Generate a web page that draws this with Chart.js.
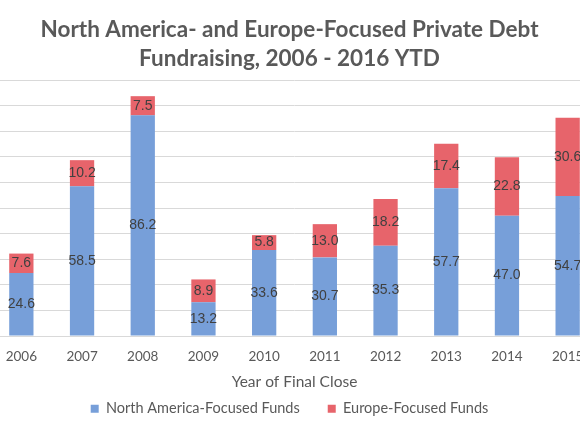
<!DOCTYPE html>
<html>
<head>
<meta charset="utf-8">
<title>Private Debt Fundraising</title>
<script src="https://cdn.jsdelivr.net/npm/chart.js@4.4.1/dist/chart.umd.min.js"></script>
<style>
html, body { margin: 0; padding: 0; background: #fff; overflow: hidden; width: 580px; height: 435px; }
#wrap { position: absolute; left: -19px; top: 0; width: 640px; height: 435px; }
</style>
</head>
<body>
<div id="wrap"><canvas id="fundChart"></canvas></div>
<script>
// values ($bn), 2016 YTD is cut off in the source
var years = ['2006', '2007', '2008', '2009', '2010', '2011', '2012', '2013', '2014', '2015'];
var northAmerica = [24.6, 58.5, 86.2, 13.2, 33.6, 30.7, 35.3, 57.7, 47.0, 54.7];
var europe = [7.6, 10.2, 7.5, 8.9, 5.8, 13.0, 18.2, 17.4, 22.8, 30.6];

var grey = '#595959';

// numbers in the middle of every segment
var segmentLabels = {
    id: 'segmentLabels',
    afterDatasetsDraw: function (chart) {
        var ctx = chart.ctx;
        ctx.save();
        ctx.font = '14px "Liberation Sans", Arial, sans-serif';
        ctx.fillStyle = '#404040';
        ctx.textAlign = 'center';
        ctx.textBaseline = 'middle';
        chart.data.datasets.forEach(function (ds, i) {
            var meta = chart.getDatasetMeta(i);
            meta.data.forEach(function (bar, j) {
                var mid = (bar.y + bar.base) / 2;
                ctx.fillText(ds.data[j].toFixed(1), bar.x, mid);
            });
        });
        ctx.restore();
    }
};

var ctx = document.getElementById('fundChart').getContext('2d');

var myChart = new Chart(ctx, {
    type: 'bar',
    data: {
        labels: years,
        datasets: [
            { label: 'North America-Focused Funds', data: northAmerica, backgroundColor: '#779FD9' },
            { label: 'Europe-Focused Funds', data: europe, backgroundColor: '#E7646B' }
        ]
    },
    options: {
        responsive: true,
        maintainAspectRatio: false,
        animation: false,
        categoryPercentage: 0.8,
        barPercentage: 0.5,
        layout: { padding: { left: 0, right: 23, top: 0, bottom: 9 } },
        plugins: {
            title: {
                display: true,
                text: ['North America- and Europe-Focused Private Debt', 'Fundraising, 2006 - 2016 YTD'],
                color: grey,
                font: { family: 'Lato', size: 22.5, weight: 'bold', lineHeight: 1.29 },
                padding: { top: 15, bottom: 7 }
            },
            legend: {
                position: 'bottom',
                labels: {
                    color: grey,
                    boxWidth: 8,
                    boxHeight: 8,
                    padding: 28,
                    font: { family: 'Lato', size: 14.5 }
                }
            },
            tooltip: { enabled: false }
        },
        scales: {
            x: {
                stacked: true,
                grid: { display: false, drawTicks: false },
                border: { color: '#d9d9d9' },
                ticks: { color: grey, padding: 13, font: { family: 'Lato', size: 13.5 } },
                title: {
                    display: true,
                    text: 'Year of Final Close',
                    color: grey,
                    font: { family: 'Lato', size: 15.5 },
                    padding: { top: -5.3, bottom: -18 }
                }
            },
            y: {
                stacked: true,
                min: 0,
                max: 100,
                ticks: { stepSize: 10, display: false },
                grid: { color: '#d9d9d9', drawTicks: false },
                border: { display: false },
                afterFit: function (scale) { scale.width = 10; }
            }
        }
    },
    plugins: [segmentLabels]
});
</script>
</body>
</html>
